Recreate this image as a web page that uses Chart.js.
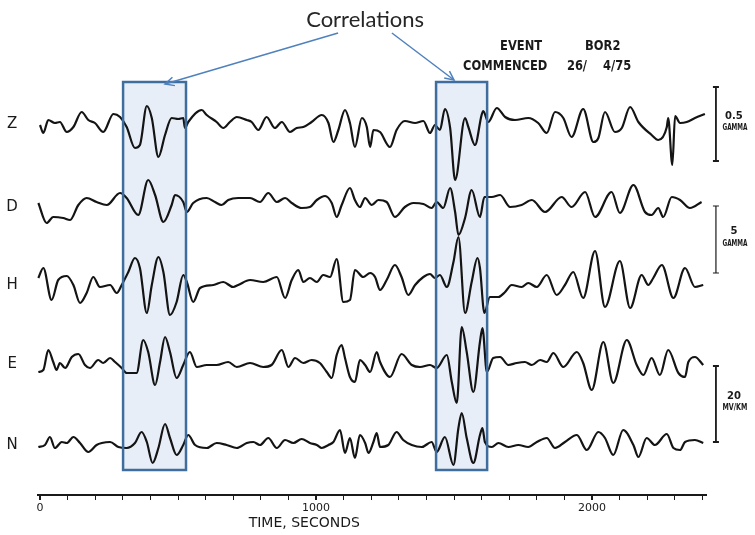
<!DOCTYPE html>
<html><head><meta charset="utf-8">
<script src="https://cdn.jsdelivr.net/npm/chart.js@4.4.1/dist/chart.umd.min.js"></script>
<style>html,body{margin:0;padding:0;background:#fff;}canvas{display:block;}</style>
</head><body>
<canvas id="c" width="755" height="535"></canvas>
<script>
// ---- channel names and trace data (time in seconds, deflection in plot units) ----
const channelLabels = ['Z', 'D', 'H', 'E', 'N'];

const zTime  = [0,12,30,54,72,97,121,151,175,199,229,266,290,314,344,362,387,405,429,453,477,501,519,525,537,586,604,640,664,688,713,749,767,791,821,851,876,906,930,954,984,1021,1045,1063,1081,1105,1123,1141,1166,1184,1196,1208,1232,1268,1292,1322,1359,1389,1413,1431,1449,1467,1486,1504,1540,1552,1576,1600,1606,1624,1655,1685,1721,1769,1805,1836,1866,1896,1926,1968,2005,2023,2047,2083,2108,2138,2168,2216,2240,2271,2276,2291,2301,2319,2343,2373,2409];
const zValue = [-3,-11,2,-1,0,-10,-5,10,2,-1,-10,8,5,-5,-26,-23,16,4,-35,-13,4,3,4,-6,0,12,7,0,-6,0,5,2,0,-8,5,-6,0,-10,-6,-5,0,7,-1,-20,-8,12,-1,-25,4,-5,-25,-8,-10,-25,-8,1,-1,1,-11,-3,-8,13,-6,-58,4,-5,-23,7,11,0,14,5,2,4,-1,-11,10,4,-15,13,-20,-16,10,-10,-6,15,0,-13,-18,-5,4,-43,6,-1,0,4,8];

const dTime  = [-6,24,48,84,109,139,169,205,242,290,314,356,392,417,447,477,489,519,532,555,604,634,658,682,718,761,797,827,858,888,912,948,978,1003,1033,1057,1075,1093,1123,1141,1159,1178,1202,1226,1256,1286,1322,1353,1389,1419,1437,1461,1486,1504,1516,1540,1564,1594,1610,1637,1667,1703,1745,1782,1830,1890,1926,1975,2011,2071,2101,2150,2192,2216,2240,2258,2289,2319,2355,2397];
const dValue = [2,-18,-12,-13,-15,0,7,3,0,12,7,-10,25,10,-17,0,10,3,-7,2,7,3,0,5,7,7,3,12,3,7,2,-3,-2,5,9,2,-12,0,17,5,-2,7,0,5,3,-12,-2,2,1,-3,3,-3,17,-7,-30,-13,15,-12,8,8,10,-2,0,5,-7,8,-2,13,-12,13,-8,20,-7,-10,-3,-12,8,5,-3,3];

const hTime  = [-6,12,42,66,97,121,145,169,193,217,254,278,296,320,344,362,387,405,429,447,471,495,519,532,555,580,628,664,700,718,761,809,858,888,912,936,954,978,1003,1026,1051,1075,1099,1123,1141,1171,1196,1214,1232,1256,1286,1310,1334,1359,1389,1413,1431,1449,1474,1498,1516,1540,1564,1585,1594,1610,1630,1661,1685,1709,1745,1769,1800,1836,1872,1902,1932,1968,2011,2047,2101,2138,2180,2204,2222,2253,2295,2337,2373,2403];
const hValue = [5,15,-17,3,7,-2,-20,-10,6,-4,-2,-10,-2,11,25,15,-30,-2,26,11,-32,-19,8,1,-19,-5,-2,1,-4,-2,3,1,6,-15,3,13,1,5,1,8,6,24,-19,-17,13,6,10,6,-7,3,18,6,-12,-2,6,9,5,8,-4,21,46,-30,1,25,15,-30,-14,-14,-9,-2,-4,0,-4,8,-12,-2,11,-15,32,-24,22,-25,8,-2,5,18,-15,15,-4,-2];

const eTime  = [-6,12,30,48,60,72,91,115,139,163,181,211,229,254,272,296,314,350,374,392,417,435,453,471,495,519,543,568,604,640,682,713,761,809,839,876,900,924,954,984,1014,1039,1057,1075,1093,1105,1123,1141,1159,1178,1196,1220,1232,1268,1310,1347,1377,1413,1437,1474,1492,1510,1528,1546,1570,1594,1603,1619,1642,1667,1697,1727,1757,1782,1812,1836,1860,1896,1945,1968,1999,2041,2077,2126,2162,2186,2216,2246,2276,2313,2337,2349,2373,2403];
const eValue = [-10,-8,12,0,-8,-1,-6,5,8,-3,-6,2,-1,4,0,-6,-11,-11,22,10,-23,0,25,10,-16,-3,10,-5,-3,-3,0,-5,-1,-5,-3,12,-5,4,-1,2,-1,-10,-16,7,17,4,-15,-20,2,-3,-10,10,0,-15,8,-3,-5,-3,-6,7,-20,-41,35,10,-30,20,34,-10,4,5,-3,-1,0,-3,2,0,9,-5,10,-1,-28,20,-21,22,-3,-13,4,-13,12,-11,-15,0,5,-3];

const nTime  = [-6,18,36,54,79,97,121,145,175,205,224,254,284,314,344,368,387,408,429,453,471,495,519,537,562,604,640,676,713,749,773,797,827,858,888,918,948,978,1003,1021,1045,1063,1087,1105,1123,1141,1159,1178,1190,1208,1220,1232,1262,1292,1316,1347,1383,1419,1437,1467,1498,1516,1528,1546,1570,1594,1603,1612,1637,1661,1697,1733,1769,1800,1836,1866,1902,1945,1981,2023,2047,2077,2113,2150,2168,2198,2228,2271,2295,2319,2337,2373,2403];
const nValue = [-4,-2,6,-5,1,0,6,0,-9,-2,0,1,-4,-5,0,11,1,-20,-5,19,5,-12,-2,8,-2,-5,0,-2,-5,0,1,-2,5,-5,3,0,4,0,-2,-5,-2,1,13,-10,5,-15,8,0,-10,1,10,-4,-2,11,3,-2,-4,1,-9,6,-22,15,30,5,-20,8,15,1,-4,0,-4,-2,-4,1,5,-5,1,8,-7,11,5,-12,13,-2,-14,5,-2,9,-5,-7,1,3,0];

// ---- axis ----
const axisMin = -7.25, axisMax = 2413;
const majorTickLabels = [0, 1000, 2000];
const minorTickStep = 100, lastTick = 2400;
const axisTitle = 'TIME, SECONDS';

// ---- annotations ----
const correlationWindows = [[301, 529], [1435, 1620]];   // seconds
const eventWords = ['EVENT', 'BOR2', 'COMMENCED', '26/', '4/75'];
const scaleBarLabels = [['0.5', 'GAMMA'], ['5', 'GAMMA'], ['20', 'MV/KM']];
const annotationTitle = 'Correlations';

// layout (plot units)
const channelBaselines = [373, 290, 212, 133, 52];
const scaleBarRanges = [[408, 334], [289, 222], [129, 53]];
const eventWordAnchors = [[1667, 449], [1975, 449], [1533, 429], [1909, 429], [2040, 429]];

const series = [[zTime, zValue], [dTime, dValue], [hTime, hValue], [eTime, eValue], [nTime, nValue]];

const datasets = series.map(([t, v], i) => ({
  label: channelLabels[i],
  data: t.map((tt, j) => ({ x: tt, y: channelBaselines[i] + v[j] })),
  borderColor: '#141414',
  borderWidth: 2.2,
  pointRadius: 0,
  fill: false,
  cubicInterpolationMode: 'monotone',
  clip: false
}));

function arrow(ctx, x0, y0, x1, y1) {
  ctx.beginPath(); ctx.moveTo(x0, y0); ctx.lineTo(x1, y1); ctx.stroke();
  const a = Math.atan2(y1 - y0, x1 - x0), L = 10, w = 0.45;
  ctx.beginPath();
  ctx.moveTo(x1 - L * Math.cos(a - w), y1 - L * Math.sin(a - w));
  ctx.lineTo(x1, y1);
  ctx.lineTo(x1 - L * Math.cos(a + w), y1 - L * Math.sin(a + w));
  ctx.stroke();
}

function condensedText(ctx, text, px, py, sx) {
  ctx.save();
  ctx.translate(px, py);
  ctx.scale(sx, 1);
  ctx.fillText(text, 0, 0);
  ctx.restore();
}

const decor = {
  id: 'decor',
  beforeDatasetsDraw(chart) {
    const { ctx, scales: { x, y } } = chart;
    ctx.save();
    ctx.fillStyle = 'rgba(200,215,236,0.42)';
    correlationWindows.forEach(([a, b]) => {
      const x0 = x.getPixelForValue(a), x1 = x.getPixelForValue(b);
      const y0 = y.getPixelForValue(413), y1 = y.getPixelForValue(25);
      ctx.fillRect(x0, y0, x1 - x0, y1 - y0);
    });
    ctx.restore();
  },
  afterDatasetsDraw(chart) {
    const { ctx, scales: { x, y } } = chart;
    ctx.save();
    ctx.strokeStyle = '#3f6d9e';
    ctx.lineWidth = 2.5;
    correlationWindows.forEach(([a, b]) => {
      const x0 = x.getPixelForValue(a), x1 = x.getPixelForValue(b);
      const y0 = y.getPixelForValue(413), y1 = y.getPixelForValue(25);
      ctx.strokeRect(x0, y0, x1 - x0, y1 - y0);
    });
    ctx.strokeStyle = '#4f81bd';
    ctx.lineWidth = 1.5;
    arrow(ctx, x.getPixelForValue(1080), y.getPixelForValue(462), x.getPixelForValue(453), y.getPixelForValue(411));
    arrow(ctx, x.getPixelForValue(1275), y.getPixelForValue(462), x.getPixelForValue(1500), y.getPixelForValue(415));
    ctx.fillStyle = '#262626';
    ctx.font = '22px Lato';
    ctx.textAlign = 'center'; ctx.textBaseline = 'middle';
    ctx.fillText(annotationTitle, x.getPixelForValue(1178), y.getPixelForValue(475));
    ctx.font = '15px "DejaVu Sans"';
    ctx.fillStyle = '#1a1a1a';
    channelLabels.forEach((l, i) => {
      ctx.fillText(l, x.getPixelForValue(-101), y.getPixelForValue(channelBaselines[i] - 2));
    });
    ctx.font = 'bold 14px "DejaVu Sans"';
    ctx.textAlign = 'left';
    eventWords.forEach((w, i) => {
      condensedText(ctx, w, x.getPixelForValue(eventWordAnchors[i][0]), y.getPixelForValue(eventWordAnchors[i][1]), 0.82);
    });
    ctx.strokeStyle = '#1a1a1a';
    const bx = x.getPixelForValue(2449);
    scaleBarRanges.forEach(([top, bot], i) => {
      const y0 = y.getPixelForValue(top), y1 = y.getPixelForValue(bot);
      ctx.lineWidth = i === 1 ? 1.2 : 1.8;
      ctx.beginPath();
      ctx.moveTo(bx, y0); ctx.lineTo(bx, y1);
      ctx.moveTo(bx - 3, y0); ctx.lineTo(bx + 3, y0);
      ctx.moveTo(bx - 3, y1); ctx.lineTo(bx + 3, y1);
      ctx.stroke();
      const mid = (y0 + y1) / 2;
      ctx.textAlign = 'center';
      ctx.font = 'bold 10px "DejaVu Sans"';
      ctx.fillText(scaleBarLabels[i][0], bx + 18, mid - 8);
      ctx.font = 'bold 9px "DejaVu Sans"';
      ctx.fillText(scaleBarLabels[i][1], bx + 19, mid + 4, 25);
    });
    ctx.font = '14px "DejaVu Sans"';
    ctx.textAlign = 'left';
    ctx.fillStyle = '#1a1a1a';
    ctx.fillText(axisTitle, x.getPixelForValue(756), 523, 117);
    ctx.restore();
  }
};

new Chart(document.getElementById('c'), {
  type: 'line',
  data: { datasets },
  options: {
    responsive: false,
    devicePixelRatio: 1,
    animation: false,
    events: [],
    layout: { padding: { left: 38, right: 49, top: 0, bottom: 0 } },
    plugins: { legend: { display: false }, tooltip: { enabled: false } },
    scales: {
      x: {
        type: 'linear', min: axisMin, max: axisMax, position: 'bottom',
        border: { display: true, color: '#1a1a1a', width: 2 },
        grid: { drawOnChartArea: false, drawTicks: true, tickLength: 5, color: '#1a1a1a',
                lineWidth: c => (c.tick && majorTickLabels.includes(c.tick.value)) ? 2 : 1 },
        ticks: { autoSkip: false, maxRotation: 0, padding: 2, color: '#1a1a1a',
                 font: { family: 'DejaVu Sans', size: 11 },
                 callback: v => majorTickLabels.includes(v) ? String(v) : '' },
        afterBuildTicks: s => {
          const t = [];
          for (let v = 0; v <= lastTick; v += minorTickStep) t.push({ value: v });
          s.ticks = t;
        },
        afterFit: s => { s.height = 40; }
      },
      y: { type: 'linear', min: 0, max: 495, display: false }
    }
  },
  plugins: [decor]
});
</script>
</body></html>
